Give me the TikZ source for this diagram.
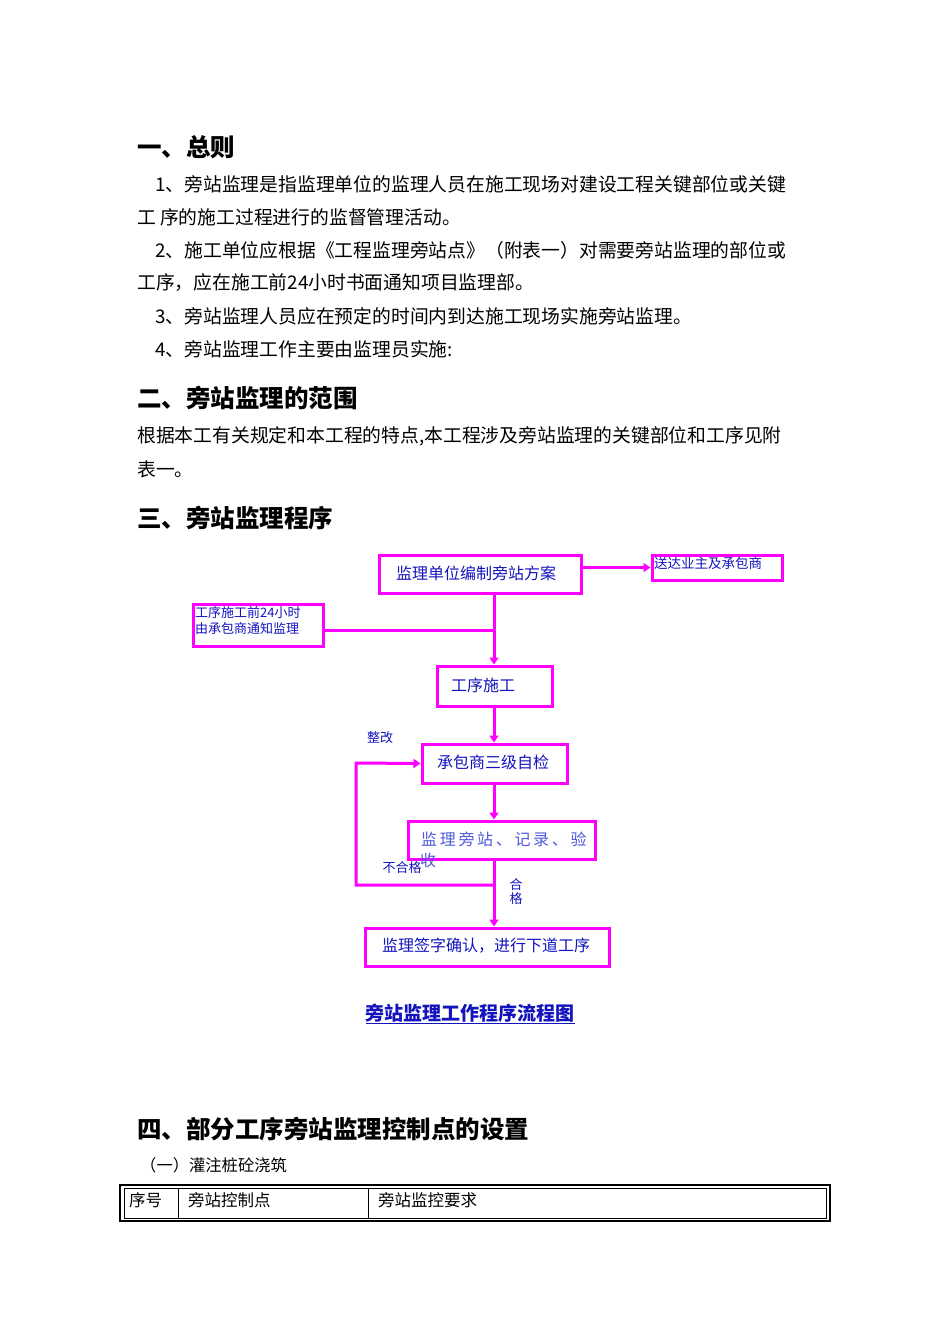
\documentclass[tikz,border=0pt]{standalone}
\usepackage{fontspec}
\setmainfont{Noto Sans CJK SC}
\usetikzlibrary{arrows.meta}
\definecolor{mag}{RGB}{255,0,255}
\definecolor{tblue}{RGB}{20,20,190}
\definecolor{lblue}{RGB}{80,90,220}
\begin{document}
\begin{tikzpicture}[x=1pt,y=-1pt,
  body/.style={anchor=west,inner sep=0,font=\fontsize{18.8}{18.8}\selectfont},
  head/.style={anchor=west,inner sep=0,font=\fontsize{24.5}{24.5}\selectfont\bfseries},
  fbox/.style={draw=mag,line width=3pt,inner sep=0},
  ftext/.style={inner sep=0,text=tblue,font=\fontsize{16}{16}\selectfont},
  flow/.style={draw=mag,line width=3pt,-{Triangle[length=7pt,width=9pt]}},
  fline/.style={draw=mag,line width=3pt}]
\useasboundingbox (0,0) rectangle (950,1344);
\fill[white] (0,0) rectangle (950,1344);
\node[head] (h1) at (137,147) {一、总则};
\node[body] (p1) at (155,184) {1、旁站监理是指监理单位的监理人员在施工现场对建设工程关键部位或关键};
\node[body] (p1b) at (137,217) {工\ 序的施工过程进行的监督管理活动。};
\node[body] (p2) at (155,250) {2、施工单位应根据《工程监理旁站点》（附表一）对需要旁站监理的部位或};
\node[body] (p2b) at (137,283) {工序，应在施工前24小时书面通知项目监理部。};
\node[body] (p3) at (155,316) {3、旁站监理人员应在预定的时间内到达施工现场实施旁站监理。};
\node[body] (p4) at (155,349) {4、旁站监理工作主要由监理员实施:};
\node[head] (h2) at (137,398) {二、旁站监理的范围};
\node[body] (p5) at (137,436) {根据本工有关规定和本工程的特点,本工程涉及旁站监理的关键部位和工序见附};
\node[body] (p5b) at (137,469) {表一。};
\node[head] (h3) at (137,518) {三、旁站监理程序};

% flowchart boxes
\node[fbox,minimum width=202,minimum height=38] (A) at (480,574) {};
\node[ftext] at (476,573) {监理单位编制旁站方案};
\node[fbox,minimum width=130,minimum height=25] (B) at (717,567.5) {};
\node[ftext,anchor=north west,font=\fontsize{13.5}{13.5}\selectfont] at (654,557) {送达业主及承包商};
\node[fbox,minimum width=130,minimum height=42] (C) at (258,625) {};
\node[ftext,anchor=north west,align=left,font=\fontsize{13}{16}\selectfont] at (195,606) {工序施工前24小时\\由承包商通知监理};
\node[fbox,minimum width=115,minimum height=40] (D) at (494.5,686) {};
\node[ftext] at (483,685) {工序施工};
\node[fbox,minimum width=145,minimum height=39] (E) at (494.5,763.5) {};
\node[ftext] at (493,762) {承包商三级自检};
\node[fbox,minimum width=187,minimum height=38] (F) at (501.5,840) {};
\node[ftext,text=lblue,anchor=west] at (421,839) {监\,理\,旁\,站\,、\,记\,录\,、\,验};
\node[ftext,text=lblue] at (428,860) {收};
\node[fbox,minimum width=244,minimum height=38] (G) at (487,947) {};
\node[ftext] at (486,946) {监理签字确认，进行下道工序};
\coordinate (j1) at (494,630);
\coordinate (j2) at (494,885);
\coordinate (l1) at (356,885);
\coordinate (l2) at (356,763);
\draw[flow] (A.east |- B.west) -- (B.west);
\draw[flow] (A.south -| j1) -- (D.north -| j1);
\draw[fline] (C.east |- j1) -- (j1);
\draw[flow] (D.south -| j1) -- (E.north -| j1);
\draw[flow] (E.south -| j1) -- (F.north -| j1);
\draw[flow] (F.south -| j1) -- (G.north -| j1);
\draw[flow] (j2) -- (l1) -- (l2) -- (E.west);
\node[ftext,font=\fontsize{13}{13}\selectfont] (zg) at (380,738) {整改};
\node[ftext,font=\fontsize{13}{13}\selectfont] (bhg) at (402,868) {不合格};
\node[ftext,font=\fontsize{13}{14}\selectfont,align=center] (hg) at (516,892) {合\\格};
\node[inner sep=0,text=tblue,font=\fontsize{19}{19}\selectfont\bfseries] (cap) at (470,1014) {\underline{旁站监理工作程序流程图}};

\node[head] (h4) at (137,1129) {四、部分工序旁站监理控制点的设置};
\node[body,font=\fontsize{16.3}{16.3}\selectfont] (s1) at (140,1165) {（一）灌注桩砼浇筑};
\draw[line width=1.3pt] (120,1185) rectangle (830,1221);
\draw[line width=1pt] (124,1188) rectangle (826,1218);
\draw[line width=0.8pt] (178,1188) -- (178,1218) (368,1188) -- (368,1218);
\node[body,font=\fontsize{16.5}{16.5}\selectfont] (t1) at (129,1200) {序号};
\node[body,font=\fontsize{16.5}{16.5}\selectfont] (t2) at (188,1200) {旁站控制点};
\node[body,font=\fontsize{16.5}{16.5}\selectfont] (t3) at (378,1200) {旁站监控要求};
\end{tikzpicture}
\end{document}
